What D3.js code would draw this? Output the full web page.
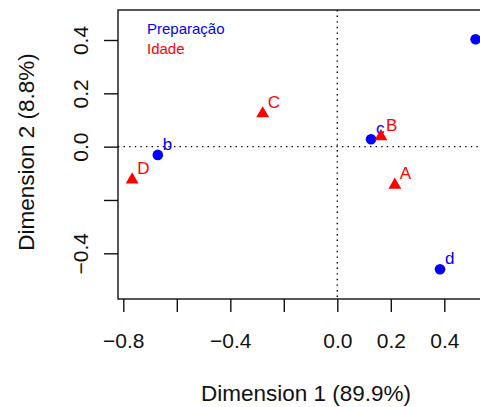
<!DOCTYPE html>
<html>
<head>
<meta charset="utf-8">
<script src="https://cdn.jsdelivr.net/npm/d3@7"></script>
<style>
  body { margin: 0; background: #fff; }
  svg { display: block; font-family: "Liberation Sans", Arial, sans-serif; }
</style>
</head>
<body>
<div id="chart"></div>
<script>
// Preparação (linhas) e Idade (colunas)
const rowLabels = ["a", "b", "c", "d"];
const rowDim1 = [0.517, -0.671, 0.126, 0.384];
const rowDim2 = [0.403, -0.031, 0.028, -0.460];

const colLabels = ["A", "B", "C", "D"];
const colDim1 = [0.215, 0.163, -0.279, -0.767];
const colDim2 = [-0.144, 0.038, 0.124, -0.124];

const xTicks = [-0.8, -0.6, -0.4, -0.2, 0.0, 0.2, 0.4];
const xTickLabels = ["\u22120.8", "", "\u22120.4", "", "0.0", "0.2", "0.4"];
const yTicks = [-0.4, -0.2, 0.0, 0.2, 0.4];
const yTickLabels = ["\u22120.4", "", "0.0", "0.2", "0.4"];

const legendNames = ["Preparação", "Idade"];
const legendColors = ["#0000ff", "#ff0000"];

const width = 480, height = 407;
const box = { left: 118, right: 492, top: 10, bottom: 299 };

const svg = d3.select("#chart").append("svg")
    .attr("width", width)
    .attr("height", height);

const x = d3.scaleLinear().domain([-0.8, 0.4]).range([123.3, 444.3]);
const y = d3.scaleLinear().domain([-0.4, 0.4]).range([253.3, 40]);

// reference lines
svg.append("line")
    .attr("x1", box.left).attr("x2", box.right)
    .attr("y1", y(0)).attr("y2", y(0))
    .attr("stroke", "#000").attr("stroke-width", 1.4)
    .attr("stroke-dasharray", "1.4,4.2");
svg.append("line")
    .attr("x1", x(0)).attr("x2", x(0))
    .attr("y1", box.top).attr("y2", box.bottom)
    .attr("stroke", "#000").attr("stroke-width", 1.4)
    .attr("stroke-dasharray", "1.4,4.2");

// frame
svg.append("rect")
    .attr("x", box.left).attr("y", box.top)
    .attr("width", box.right - box.left)
    .attr("height", box.bottom - box.top)
    .attr("fill", "none")
    .attr("stroke", "#111").attr("stroke-width", 1.4);

// x axis
const xAxis = d3.axisBottom(x)
    .tickValues(xTicks)
    .tickFormat((d, i) => xTickLabels[i])
    .tickSizeOuter(0)
    .tickSize(13)
    .tickPadding(21);
const gx = svg.append("g").attr("transform", `translate(0,${box.bottom})`).call(xAxis);
gx.select(".domain").remove();
gx.selectAll("line").attr("stroke", "#111").attr("stroke-width", 1.4);
gx.selectAll("text").attr("font-size", 21).attr("fill", "#111")
    .attr("font-family", "Liberation Sans, Arial, sans-serif");

// y axis (rotated labels)
const yAxis = d3.axisLeft(y)
    .tickValues(yTicks)
    .tickFormat((d, i) => yTickLabels[i])
    .tickSizeOuter(0)
    .tickSize(14);
const gy = svg.append("g").attr("transform", `translate(${box.left},0)`).call(yAxis);
gy.select(".domain").remove();
gy.selectAll("line").attr("stroke", "#111").attr("stroke-width", 1.4);
gy.selectAll("text")
    .attr("font-size", 21).attr("fill", "#111")
    .attr("font-family", "Liberation Sans, Arial, sans-serif")
    .attr("x", null).attr("dy", null)
    .attr("text-anchor", "middle")
    .attr("transform", `translate(${88 - box.left},0) rotate(-90)`);

// axis titles
svg.append("text")
    .attr("x", 306).attr("y", 401)
    .attr("text-anchor", "middle")
    .attr("font-size", 22.5).attr("fill", "#111")
    .text("Dimension 1 (89.9%)");
svg.append("text")
    .attr("transform", "translate(34,152) rotate(-90)")
    .attr("text-anchor", "middle")
    .attr("font-size", 22.5).attr("fill", "#111")
    .text("Dimension 2 (8.8%)");

const plot = svg.append("g");

// rows: blue circles
plot.selectAll("circle.row")
    .data(rowLabels)
    .enter().append("circle")
    .attr("class", "row")
    .attr("cx", (d, i) => x(rowDim1[i]))
    .attr("cy", (d, i) => y(rowDim2[i]))
    .attr("r", 5.3)
    .attr("fill", legendColors[0]);

// labels that would fall past the right edge are not drawn (cropped in the original)
const rowIdx = rowLabels.map((d, i) => i).filter(i => x(rowDim1[i]) + 5 < width - 6);
plot.selectAll("text.row")
    .data(rowIdx)
    .enter().append("text")
    .attr("class", "row")
    .attr("x", i => x(rowDim1[i]) + 5)
    .attr("y", i => y(rowDim2[i]) - 5)
    .attr("font-size", 17)
    .attr("fill", legendColors[0])
    .text(i => rowLabels[i]);

// columns: red triangles
plot.selectAll("path.col")
    .data(colLabels)
    .enter().append("path")
    .attr("class", "col")
    .attr("d", d3.symbol(d3.symbolTriangle, 72))
    .attr("transform", (d, i) => `translate(${x(colDim1[i])},${y(colDim2[i])})`)
    .attr("fill", legendColors[1]);

plot.selectAll("text.col")
    .data(colLabels)
    .enter().append("text")
    .attr("class", "col")
    .attr("x", (d, i) => x(colDim1[i]) + 5)
    .attr("y", (d, i) => y(colDim2[i]) - 6)
    .attr("font-size", 17)
    .attr("fill", legendColors[1])
    .text(d => d);

// legend
svg.selectAll("text.legend")
    .data(legendNames)
    .enter().append("text")
    .attr("class", "legend")
    .attr("x", 147)
    .attr("y", (d, i) => 33.5 + i * 20)
    .attr("font-size", 15)
    .attr("fill", (d, i) => legendColors[i])
    .text(d => d);
</script>
</body>
</html>
